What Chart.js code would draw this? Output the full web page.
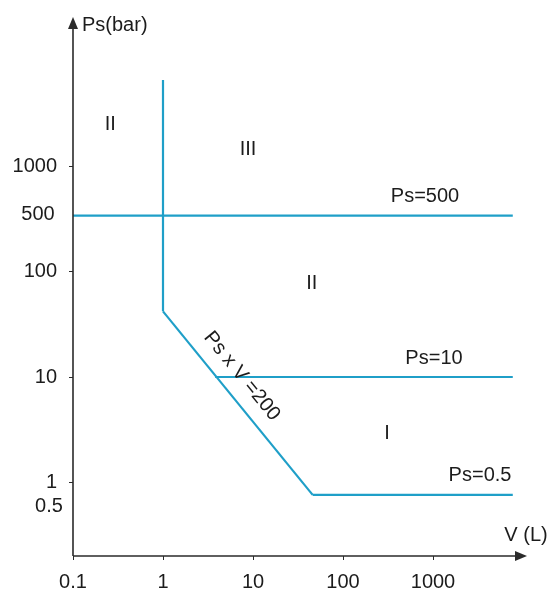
<!DOCTYPE html>
<html>
<head>
<meta charset="utf-8">
<script src="https://cdn.jsdelivr.net/npm/chart.js@4/dist/chart.umd.min.js"></script>
<style>
  html, body { margin: 0; padding: 0; background: #ffffff; }
  #wrap { width: 552px; height: 598px; }
</style>
</head>
<body>
<div id="wrap"><canvas id="c" width="552" height="598"></canvas></div>
<script>
// ---- data ----
const vTicks = [0.1, 1, 10, 100, 1000];          // V (L) tick labels
const psTicks = [1, 10, 100, 1000];              // Ps (bar) tick labels
const sideLabels = ['500', '0.5'];               // extra labels beside the level lines
const boundaryV = [1, 1];                        // vertical boundary at V = 1 L
const boundaryPs = [6600, 42];
const productV = [1, 46];                        // "Ps x V = 200" boundary
const productPs = [42, 0.76];
const levelNames = ['Ps=500', 'Ps=10', 'Ps=0.5'];
const levelPs = [340, 10, 0.76];
const levelStartV = [0.1, 3.8, 46];
const levelEndV = [7700, 7700, 7700];
const levelLabelV = [815, 1026, 3330];
const regionNames = ['II', 'III', 'II', 'I'];
const regionV = [0.26, 8.8, 45, 308];
const regionPs = [2470, 1430, 78, 2.94];
const productLabel = 'Ps x V =200';
const productLabelV = 7.5;
const productLabelPs = 10.2;

// ---- styles ----
const LINE = '#1f9fc8';
const INK = '#1c1c1c';
const AXIS = '#2b2b2b';
const FONT = "'Liberation Sans', Arial, sans-serif";
const FS = 20;

const seg = (xs, ys) => xs.map((x, i) => ({ x: x, y: ys[i] }));
const datasets = [
  { data: seg(boundaryV, boundaryPs) },
  { data: seg(productV, productPs) },
  ...levelPs.map((p, i) => ({ data: seg([levelStartV[i], levelEndV[i]], [p, p]) }))
].map(d => Object.assign(d, {
  showLine: true, borderColor: LINE, borderWidth: 2.2, pointRadius: 0,
  fill: false, tension: 0, borderCapStyle: 'butt'
}));

const annot = {
  id: 'annot',
  afterDraw(chart) {
    const { ctx, chartArea: a, scales: { x, y } } = chart;
    ctx.save();
    // axes with arrows
    ctx.strokeStyle = AXIS; ctx.fillStyle = AXIS; ctx.lineWidth = 1.6;
    ctx.beginPath();
    ctx.moveTo(a.left, a.bottom); ctx.lineTo(a.left, a.top + 6);
    ctx.moveTo(a.left, a.bottom); ctx.lineTo(a.right + 0, a.bottom);
    ctx.stroke();
    ctx.beginPath();
    ctx.moveTo(a.left, a.top - 2); ctx.lineTo(a.left - 5, a.top + 10); ctx.lineTo(a.left + 5, a.top + 10); ctx.closePath();
    ctx.fill();
    ctx.beginPath();
    ctx.moveTo(a.right + 4, a.bottom); ctx.lineTo(a.right - 8, a.bottom - 5); ctx.lineTo(a.right - 8, a.bottom + 5); ctx.closePath();
    ctx.fill();

    ctx.fillStyle = INK;
    ctx.font = FS + 'px ' + FONT;
    // axis titles
    ctx.textAlign = 'left'; ctx.textBaseline = 'middle';
    ctx.fillText('Ps(bar)', a.left + 9, a.top + 6);
    ctx.textAlign = 'center';
    ctx.fillText('V (L)', a.right + 3, a.bottom - 21);
    // side labels near the y axis
    ctx.textAlign = 'center';
    ctx.fillText(sideLabels[0], a.left - 35, y.getPixelForValue(levelPs[0]) - 1);
    ctx.fillText(sideLabels[1], a.left - 24, y.getPixelForValue(levelPs[2]) + 12);
    // region labels
    regionNames.forEach((t, i) => {
      ctx.fillText(t, x.getPixelForValue(regionV[i]), y.getPixelForValue(regionPs[i]));
    });
    // level labels
    levelNames.forEach((t, i) => {
      ctx.fillText(t, x.getPixelForValue(levelLabelV[i]), y.getPixelForValue(levelPs[i]) - 19);
    });
    // rotated label along Ps x V boundary
    const x0 = x.getPixelForValue(productV[0]), y0 = y.getPixelForValue(productPs[0]);
    const x1 = x.getPixelForValue(productV[1]), y1 = y.getPixelForValue(productPs[1]);
    const ang = Math.atan2(y1 - y0, x1 - x0);
    ctx.translate(x.getPixelForValue(productLabelV), y.getPixelForValue(productLabelPs));
    ctx.rotate(ang);
    ctx.fillText(productLabel, 0, 0);
    ctx.restore();
  }
};

Chart.defaults.font.family = FONT;
Chart.defaults.color = INK;

new Chart(document.getElementById('c'), {
  type: 'scatter',
  data: { datasets },
  options: {
    responsive: false,
    animation: false,
    devicePixelRatio: 1,
    layout: { padding: { left: 0, top: 19, right: 29, bottom: 0 } },
    plugins: { legend: { display: false }, tooltip: { enabled: false } },
    scales: {
      x: {
        type: 'logarithmic', min: 0.1, max: 10000,
        afterBuildTicks: s => { s.ticks = vTicks.map(v => ({ value: v })); },
        afterFit: s => { s.height = 42; },
        ticks: { callback: v => String(v), font: { size: FS }, color: INK, padding: 10, maxRotation: 0, autoSkip: false },
        grid: { drawOnChartArea: false, drawTicks: true, tickLength: 4, color: AXIS, lineWidth: 1 },
        border: { display: false }
      },
      y: {
        type: 'logarithmic', min: 0.2, max: 25000,
        afterBuildTicks: s => { s.ticks = psTicks.map(v => ({ value: v })); },
        afterFit: s => { s.width = 73; s.paddingTop = 0; s.paddingBottom = 0; },
        ticks: { callback: v => String(v), font: { size: FS }, color: INK, padding: 12, autoSkip: false },
        grid: { drawOnChartArea: false, drawTicks: true, tickLength: 4, color: AXIS, lineWidth: 1 },
        border: { display: false }
      }
    }
  },
  plugins: [annot]
});
</script>
</body>
</html>
